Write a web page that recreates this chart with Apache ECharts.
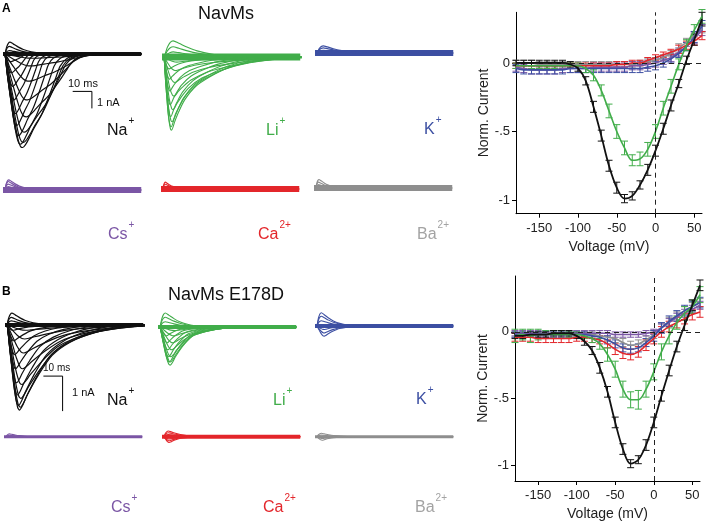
<!DOCTYPE html>
<html><head><meta charset="utf-8">
<script src="https://cdn.jsdelivr.net/npm/echarts@6/dist/echarts.min.js"></script>
<style>html,body{margin:0;padding:0;background:#fff}#c{width:709px;height:523px}</style>
</head><body><div id="c"></div>
<script>
// ================= DATA =================
// I-V relations (normalized peak current vs voltage)
const voltages = [-180,-170,-160,-150,-140,-130,-120,-110,-100,-90,-80,-70,-60,-50,-40,-30,-20,-10,0,10,20,30,40,50,60];
// Panel A: NavMs
const ivA_Na = [0,0,0,0,0,0,0,-0.01,-0.04,-0.13,-0.32,-0.53,-0.75,-0.91,-0.99,-0.97,-0.89,-0.78,-0.64,-0.48,-0.31,-0.15,0.02,0.17,0.32];
const errA_Na = [0.02,0.02,0.02,0.02,0.02,0.02,0.02,0.02,0.02,0.03,0.04,0.04,0.04,0.04,0.03,0.03,0.03,0.04,0.04,0.04,0.04,0.03,0.03,0.04,0.05];
const ivA_Li = [-0.02,-0.02,-0.02,-0.02,-0.02,-0.02,-0.02,-0.02,-0.02,-0.04,-0.09,-0.2,-0.35,-0.5,-0.62,-0.71,-0.7,-0.63,-0.5,-0.33,-0.17,-0.01,0.13,0.24,0.34];
const errA_Li = [0.02,0.02,0.02,0.02,0.02,0.02,0.02,0.02,0.02,0.03,0.04,0.04,0.05,0.05,0.05,0.04,0.05,0.05,0.05,0.05,0.05,0.04,0.04,0.04,0.05];
const ivA_K = [-0.04,-0.05,-0.05,-0.05,-0.05,-0.05,-0.05,-0.04,-0.04,-0.04,-0.04,-0.04,-0.04,-0.04,-0.04,-0.04,-0.04,-0.03,-0.02,0.0,0.03,0.07,0.12,0.19,0.27];
const errA_K = [0.03,0.03,0.03,0.03,0.03,0.03,0.03,0.03,0.03,0.03,0.03,0.03,0.03,0.03,0.03,0.03,0.03,0.03,0.03,0.03,0.03,0.03,0.03,0.04,0.04];
const ivA_Cs = [-0.03,-0.04,-0.05,-0.05,-0.05,-0.05,-0.04,-0.04,-0.04,-0.04,-0.03,-0.03,-0.03,-0.03,-0.03,-0.02,-0.02,-0.01,0.0,0.02,0.04,0.08,0.12,0.18,0.24];
const errA_Cs = [0.03,0.03,0.03,0.03,0.03,0.03,0.03,0.03,0.03,0.03,0.03,0.03,0.03,0.03,0.03,0.03,0.03,0.03,0.03,0.03,0.03,0.03,0.03,0.04,0.04];
const ivA_Ca = [-0.02,-0.02,-0.02,-0.02,-0.02,-0.02,-0.02,-0.02,-0.02,-0.02,-0.02,-0.02,-0.02,-0.01,-0.01,0.0,0.0,0.02,0.04,0.06,0.08,0.1,0.13,0.16,0.2];
const errA_Ca = [0.02,0.02,0.02,0.02,0.02,0.02,0.02,0.02,0.02,0.02,0.02,0.02,0.02,0.02,0.02,0.02,0.02,0.02,0.02,0.02,0.02,0.03,0.03,0.03,0.03];
const ivA_Ba = [0,0,0,-0.01,-0.01,-0.01,-0.01,-0.01,-0.01,-0.01,-0.01,-0.01,-0.01,-0.01,-0.01,-0.01,0,0.01,0.02,0.04,0.07,0.11,0.15,0.2,0.25];
const errA_Ba = [0.02,0.02,0.02,0.02,0.02,0.02,0.02,0.02,0.02,0.02,0.02,0.02,0.02,0.02,0.02,0.02,0.02,0.02,0.02,0.02,0.02,0.03,0.03,0.03,0.03];
// Panel B: NavMs E178D
const ivB_Na = [-0.03,-0.03,-0.02,-0.02,-0.02,-0.01,-0.01,-0.01,-0.03,-0.07,-0.14,-0.27,-0.45,-0.68,-0.88,-0.99,-0.96,-0.85,-0.68,-0.48,-0.29,-0.11,0.05,0.2,0.35];
const errB_Na = [0.02,0.02,0.02,0.02,0.02,0.02,0.02,0.02,0.02,0.03,0.03,0.04,0.04,0.04,0.04,0.03,0.03,0.04,0.04,0.04,0.04,0.04,0.04,0.04,0.04];
const ivB_Li = [-0.03,-0.02,-0.03,-0.02,-0.02,-0.02,-0.02,-0.02,-0.02,-0.03,-0.05,-0.09,-0.17,-0.28,-0.43,-0.51,-0.51,-0.43,-0.3,-0.15,-0.03,0.07,0.14,0.19,0.28];
const errB_Li = [0.05,0.04,0.05,0.04,0.03,0.03,0.03,0.02,0.02,0.02,0.03,0.04,0.05,0.06,0.06,0.06,0.07,0.06,0.06,0.06,0.06,0.05,0.05,0.05,0.06];
const ivB_K = [-0.02,-0.02,-0.02,-0.02,-0.02,-0.02,-0.02,-0.02,-0.02,-0.02,-0.03,-0.04,-0.06,-0.09,-0.12,-0.13,-0.12,-0.08,-0.03,0.03,0.08,0.12,0.16,0.19,0.22];
const errB_K = [0.02,0.02,0.02,0.02,0.02,0.02,0.02,0.02,0.02,0.02,0.02,0.03,0.03,0.03,0.03,0.03,0.03,0.03,0.04,0.04,0.04,0.04,0.04,0.04,0.04];
const ivB_Cs = [-0.01,-0.01,-0.01,-0.01,-0.01,-0.01,-0.01,-0.01,-0.01,-0.01,-0.01,-0.01,-0.01,-0.02,-0.02,-0.02,-0.02,-0.01,0.0,0.03,0.07,0.11,0.14,0.17,0.2];
const errB_Cs = [0.02,0.02,0.02,0.02,0.02,0.02,0.02,0.02,0.02,0.02,0.02,0.02,0.02,0.02,0.02,0.02,0.02,0.02,0.02,0.03,0.03,0.03,0.03,0.03,0.03];
const ivB_Ca = [-0.04,-0.04,-0.04,-0.05,-0.05,-0.05,-0.05,-0.05,-0.04,-0.04,-0.05,-0.06,-0.09,-0.13,-0.16,-0.17,-0.15,-0.1,-0.05,0.0,0.04,0.07,0.1,0.13,0.15];
const errB_Ca = [0.03,0.03,0.03,0.03,0.03,0.03,0.03,0.03,0.03,0.03,0.03,0.03,0.03,0.04,0.04,0.04,0.04,0.04,0.04,0.04,0.04,0.04,0.04,0.04,0.04];
const ivB_Ba = [-0.02,-0.02,-0.02,-0.02,-0.02,-0.02,-0.02,-0.02,-0.02,-0.02,-0.02,-0.03,-0.04,-0.05,-0.08,-0.1,-0.09,-0.06,-0.02,0.03,0.08,0.12,0.16,0.19,0.22];
const errB_Ba = [0.02,0.02,0.02,0.02,0.02,0.02,0.02,0.02,0.02,0.02,0.02,0.02,0.03,0.03,0.03,0.03,0.03,0.03,0.03,0.03,0.03,0.03,0.03,0.03,0.03];

// IV axis ticks
const ivXTicks = [-150,-100,-50,0,50];
const ivYTicks = [-1,-0.5,0];
const ivYTickLabels = ['-1','-.5','0'];

// Current traces: waveform shapes [time / time-to-peak, fraction of peak]
const shapeNaA = [[0,0],[0.2,0.26],[0.4,0.52],[0.6,0.77],[0.75,0.92],[0.88,0.99],[1,1],[1.15,0.97],[1.35,0.9],[1.6,0.8],[2.0,0.66],[2.5,0.42],[2.8,0.26],[3.05,0.13],[3.4,0.05],[4,0.01],[4.6,0]];
const shapeLiA = [[0,0],[0.3,0.4],[0.6,0.8],[0.85,0.98],[1,1],[1.4,0.88],[1.8,0.77],[2.6,0.59],[4,0.4],[5.75,0.27],[7.9,0.15],[10.5,0.065],[13,0.01],[15,0]];
const shapeNaB = [[0,0],[0.3,0.35],[0.6,0.75],[0.85,0.97],[1,1],[1.25,0.94],[1.53,0.84],[2.3,0.61],[3.3,0.37],[4.6,0.21],[6.2,0.1],[7.9,0.035],[9.5,0]];
const shapeLiB = [[0,0],[0.3,0.35],[0.6,0.75],[0.85,0.97],[1,1],[1.2,0.93],[1.48,0.78],[2.1,0.52],[3,0.25],[4.3,0.12],[5.8,0.035],[7.4,0.01],[8.5,0]];
const shapeOut = [[0,0],[0.4,0.6],[0.7,0.9],[1,1],[1.6,0.85],[2.5,0.6],[3.5,0.38],[5,0.18],[6.5,0.07],[8,0]];

// trace families: peak amplitudes (nA, inward negative) and times-to-peak (ms)
const naA_inAmp = [-0.25,-0.7,-1.6,-2.7,-3.7,-4.6,-5.2,-5.5,-5.3,-4.8,-4.2,-3.5,-2.7,-1.9,-1.1,-0.45];
const naA_inTtp = [15,14,13,12,11.5,10.5,10,9.5,8.5,7.5,6.5,5.8,5.0,4.4,3.8,3.4];
const naA_outAmp = [0.2,0.45,0.7];
const naA_outTtp = [2.5,2.5,2.8];
const liA_inAmp = [-0.3,-0.8,-1.5,-2.3,-3.1,-3.8,-4.3,-4.1,-3.5,-2.8,-2.0,-1.3,-0.7];
const liA_inTtp = [7,6.5,6,5.5,5,4.5,4.2,4,3.8,3.6,3.4,3.2,3];
const liA_outAmp = [0.3,0.6,0.95];
const liA_outTtp = [5,5,5];
const kA_outAmp = [0.15,0.3,0.42];
const kA_outTtp = [3.5,3.5,3.5];
const csA_outAmp = [0.2,0.35,0.5,0.6];
const csA_outTtp = [2,2,2,2.2];
const caA_outAmp = [0.15,0.28,0.4];
const caA_outTtp = [1.5,1.5,1.5];
const baA_outAmp = [0.2,0.35,0.5];
const baA_outTtp = [1.6,1.6,1.8];
const naB_inAmp = [-0.15,-0.4,-0.8,-1.25,-1.7,-2.1,-2.35,-2.43,-2.3,-2.0,-1.65,-1.25,-0.85,-0.45,-0.15];
const naB_inTtp = [10,9.5,9,8.5,8,7.5,7.2,6.8,6.3,5.8,5.3,4.8,4.3,3.8,3.5];
const naB_outAmp = [0.12,0.22,0.34];
const naB_outTtp = [2.5,2.5,2.8];
const liB_inAmp = [-0.1,-0.25,-0.45,-0.65,-0.85,-1.0,-1.09,-1.0,-0.85,-0.65,-0.45,-0.25];
const liB_inTtp = [8,7.5,7,6.5,6,5.8,5.6,5.2,4.8,4.4,4,3.6];
const liB_outAmp = [0.15,0.28,0.4];
const liB_outTtp = [3,3,3];
const kB_inAmp = [-0.1,-0.2,-0.29];
const kB_inTtp = [4,4,4];
const kB_outAmp = [0.15,0.28,0.38];
const kB_outTtp = [2.5,2.5,2.5];
const csB_outAmp = [0.05,0.1];
const csB_outTtp = [2,2];
const caB_inAmp = [-0.08,-0.14,-0.2];
const caB_inTtp = [3,3,3];
const caB_outAmp = [0.08,0.14,0.2];
const caB_outTtp = [2.5,2.5,2.5];
const baB_inAmp = [-0.06,-0.12];
const baB_inTtp = [3,3];
const baB_outAmp = [0.06,0.12];
const baB_outTtp = [2.5,2.5];
const stepOnset = 0.8;   // ms
const traceEnd = 72;     // ms
const scaleBarTime = 10; // ms
const scaleBarCurrent = 1; // nA

// ================= STYLE / LAYOUT =================
const FONT = "'Liberation Sans', Arial, Helvetica, sans-serif";
const C = {Na:'#111111', Li:'#41ad4a', K:'#3c4fa2', Cs:'#7b56a5', Ca:'#e3262b', Ba:'#8e8e8e', BaLabel:'#a3a3a3'};
const pxPerMs = 1.92;
const rowA = {pxPerNA:17, yMin:-6, yMax:2};
const rowB = {pxPerNA:35, yMin:-3, yMax:1};
const panels = [
  {ion:'Na', row:rowA, left:3,   base:54,  band:4, lw:1.2, inShape:shapeNaA, inAmp:naA_inAmp, inTtp:naA_inTtp, outAmp:naA_outAmp, outTtp:naA_outTtp},
  {ion:'Li', row:rowA, left:162, base:57,  band:7, lw:1.1, inShape:shapeLiA, inAmp:liA_inAmp, inTtp:liA_inTtp, outAmp:liA_outAmp, outTtp:liA_outTtp},
  {ion:'K',  row:rowA, left:315, base:53,  band:6, lw:1.2, outAmp:kA_outAmp, outTtp:kA_outTtp},
  {ion:'Cs', row:rowA, left:3,   base:190, band:6, lw:1.2, outAmp:csA_outAmp, outTtp:csA_outTtp},
  {ion:'Ca', row:rowA, left:161, base:189, band:6, lw:1.2, outAmp:caA_outAmp, outTtp:caA_outTtp},
  {ion:'Ba', row:rowA, left:314, base:188, band:6, lw:1.2, outAmp:baA_outAmp, outTtp:baA_outTtp},
  {ion:'Na', row:rowB, left:5,   base:325, band:4, lw:1.2, inShape:shapeNaB, inAmp:naB_inAmp, inTtp:naB_inTtp, outAmp:naB_outAmp, outTtp:naB_outTtp},
  {ion:'Li', row:rowB, left:158, base:327, band:4, lw:1.1, inShape:shapeLiB, inAmp:liB_inAmp, inTtp:liB_inTtp, outAmp:liB_outAmp, outTtp:liB_outTtp},
  {ion:'K',  row:rowB, left:315, base:326, band:4, lw:1.1, inShape:shapeLiB, inAmp:kB_inAmp, inTtp:kB_inTtp, outAmp:kB_outAmp, outTtp:kB_outTtp},
  {ion:'Cs', row:rowB, left:4,   base:443, band:3, lw:1.1, outAmp:csB_outAmp, outTtp:csB_outTtp},
  {ion:'Ca', row:rowB, left:162, base:443, band:4, lw:1.1, inShape:shapeLiB, inAmp:caB_inAmp, inTtp:caB_inTtp, outAmp:caB_outAmp, outTtp:caB_outTtp},
  {ion:'Ba', row:rowB, left:315, base:443, band:3, lw:1.1, inShape:shapeLiB, inAmp:baB_inAmp, inTtp:baB_inTtp, outAmp:baB_outAmp, outTtp:baB_outTtp}
];
const scaleBars = [{panel:0, t0:36.3, i0:-2.2}, {panel:6, t0:20, i0:-1.46}];

function buildTrace(amp, ttp, shape){
  const pts = [[0,0],[stepOnset,0]];
  shape.forEach(p => pts.push([stepOnset + p[0]*ttp, amp*p[1]]));
  pts.push([traceEnd, 0]);
  return pts;
}

const grids = [], xAxes = [], yAxes = [], series = [];
panels.forEach((p, gi) => {
  const r = p.row;
  grids.push({left:p.left, top:p.base - r.yMax*r.pxPerNA, width:traceEnd*pxPerMs, height:(r.yMax - r.yMin)*r.pxPerNA});
  xAxes.push({gridIndex:gi, type:'value', min:0, max:traceEnd, show:false});
  yAxes.push({gridIndex:gi, type:'value', min:r.yMin, max:r.yMax, show:false});
  const col = C[p.ion];
  series.push({type:'line', xAxisIndex:gi, yAxisIndex:gi, data:[[0,0],[traceEnd,0]], showSymbol:false, silent:true,
    lineStyle:{width:p.band, color:col}});
  const add = (amps, ttps, shape) => amps.forEach((a, k) => series.push({type:'line', xAxisIndex:gi, yAxisIndex:gi,
    data:buildTrace(a, ttps[k], shape), showSymbol:false, silent:true, smooth:0.25, lineStyle:{width:p.lw, color:col}}));
  if (p.outAmp) add(p.outAmp, p.outTtp, shapeOut);
  if (p.inAmp) add(p.inAmp, p.inTtp, p.inShape);
});
scaleBars.forEach(s => {
  series.push({type:'line', xAxisIndex:s.panel, yAxisIndex:s.panel, showSymbol:false, silent:true,
    data:[[s.t0, s.i0],[s.t0 + scaleBarTime, s.i0],[s.t0 + scaleBarTime, s.i0 - scaleBarCurrent]],
    lineStyle:{width:1, color:'#000'}});
});

// ---- IV plots ----
const ivGrids = [
  {left:516, top:12.3, width:186, height:201.4, yMin:-1.1, yMax:0.37},
  {left:515, top:276, width:185, height:205, yMin:-1.12, yMax:0.42}
];
const ivSets = [
  [['Ba',ivA_Ba,errA_Ba],['Cs',ivA_Cs,errA_Cs],['K',ivA_K,errA_K],['Ca',ivA_Ca,errA_Ca],['Li',ivA_Li,errA_Li],['Na',ivA_Na,errA_Na]],
  [['Ba',ivB_Ba,errB_Ba],['Cs',ivB_Cs,errB_Cs],['Ca',ivB_Ca,errB_Ca],['K',ivB_K,errB_K],['Li',ivB_Li,errB_Li],['Na',ivB_Na,errB_Na]]
];
ivGrids.forEach((g, k) => {
  const gi = grids.length;
  grids.push({left:g.left, top:g.top, width:g.width, height:g.height});
  xAxes.push({gridIndex:gi, type:'value', min:-180, max:60,
    axisLine:{show:true, onZero:false, lineStyle:{color:'#000', width:1}},
    axisTick:{show:true, length:4, customValues:ivXTicks, lineStyle:{color:'#000'}},
    axisLabel:{customValues:ivXTicks, fontSize:13, color:'#222', margin:8, fontFamily:FONT},
    splitLine:{show:false},
    name:'Voltage (mV)', nameLocation:'middle', nameGap:26, nameTextStyle:{fontSize:14, color:'#222', fontFamily:FONT}});
  yAxes.push({gridIndex:gi, type:'value', min:g.yMin, max:g.yMax,
    axisLine:{show:true, onZero:false, lineStyle:{color:'#000', width:1}},
    axisTick:{show:true, length:4, customValues:ivYTicks, lineStyle:{color:'#000'}},
    axisLabel:{customValues:ivYTicks, fontSize:13, color:'#222', margin:6, fontFamily:FONT,
      formatter: v => ivYTickLabels[ivYTicks.indexOf(v)] ?? ''},
    splitLine:{show:false},
    name:'Norm. Current', nameLocation:'middle', nameGap:19, nameTextStyle:{fontSize:14, color:'#222', fontFamily:FONT}});
  // dashed zero lines
  series.push({type:'line', xAxisIndex:gi, yAxisIndex:gi, data:[[-180,0]], showSymbol:false, silent:true, lineStyle:{opacity:0},
    markLine:{silent:true, symbol:'none', label:{show:false}, animation:false,
      lineStyle:{type:[5,4], color:'#222', width:1}, data:[{xAxis:0},{yAxis:0}]}});
  ivSets[k].forEach(([ion, vals, errs]) => {
    const col = C[ion];
    series.push({type:'line', xAxisIndex:gi, yAxisIndex:gi, data:voltages.map((v,i)=>[v, vals[i]]),
      smooth:0.35, showSymbol:false, silent:true, lineStyle:{width: ion==='Na'?1.8:1.6, color:col}});
    series.push({type:'custom', xAxisIndex:gi, yAxisIndex:gi, silent:true,
      data:voltages.map((v,i)=>[v, vals[i], errs[i]]),
      renderItem:(params, api) => {
        const x = api.value(0), y = api.value(1), e = api.value(2);
        const hi = api.coord([x, y + e]), lo = api.coord([x, y - e]);
        const w = 3.5, st = {stroke:col, lineWidth:1};
        return {type:'group', children:[
          {type:'line', shape:{x1:hi[0], y1:hi[1], x2:lo[0], y2:lo[1]}, style:st},
          {type:'line', shape:{x1:hi[0]-w, y1:hi[1], x2:hi[0]+w, y2:hi[1]}, style:st},
          {type:'line', shape:{x1:lo[0]-w, y1:lo[1], x2:lo[0]+w, y2:lo[1]}, style:st}
        ]};
      }});
  });
});

// ---- text ----
function txt(x, y, s, size, color, extra){
  return Object.assign({type:'text', x:x, y:y, silent:true,
    style:Object.assign({text:s, fontSize:size, fontFamily:FONT, fill:color, align:'left', verticalAlign:'middle'}, extra||{})});
}
const ionLabels = [
  ['Na','+',107,131,'Na'],['Li','+',266,131,'Li'],['K','+',424,130,'K'],
  ['Cs','+',108,235,'Cs'],['Ca','2+',258,235,'Ca'],['Ba','2+',417,235,'BaLabel'],
  ['Na','+',107,401,'Na'],['Li','+',273,401,'Li'],['K','+',416,400,'K'],
  ['Cs','+',111,508,'Cs'],['Ca','2+',263,508,'Ca'],['Ba','2+',415,508,'BaLabel']
];
const graphic = [];
ionLabels.forEach(([b, s, x, y, ck]) => {
  const w = echarts.format.getTextRect ? echarts.format.getTextRect(b, '16px ' + FONT).width : b.length*10;
  graphic.push(txt(x, y, b, 16, C[ck]));
  graphic.push(txt(x + w + 1, y - 10, s, 10, C[ck]));
});
graphic.push(txt(2, 9, 'A', 12, '#000', {fontWeight:'bold'}));
graphic.push(txt(2, 292, 'B', 12, '#000', {fontWeight:'bold'}));
graphic.push(txt(226, 14, 'NavMs', 18, '#111', {align:'center'}));
graphic.push(txt(226, 295, 'NavMs E178D', 18, '#111', {align:'center'}));
graphic.push(txt(68, 84, '10 ms', 11, '#111'));
graphic.push(txt(97, 103, '1 nA', 11, '#111'));
graphic.push(txt(43, 368, '10 ms', 10, '#111'));
graphic.push(txt(72, 393, '1 nA', 11, '#111'));

const chart = echarts.init(document.getElementById('c'), null, {renderer:'canvas'});
chart.setOption({animation:false, backgroundColor:'#fff', grid:grids, xAxis:xAxes, yAxis:yAxes, series:series, graphic:graphic});
</script></body></html>
